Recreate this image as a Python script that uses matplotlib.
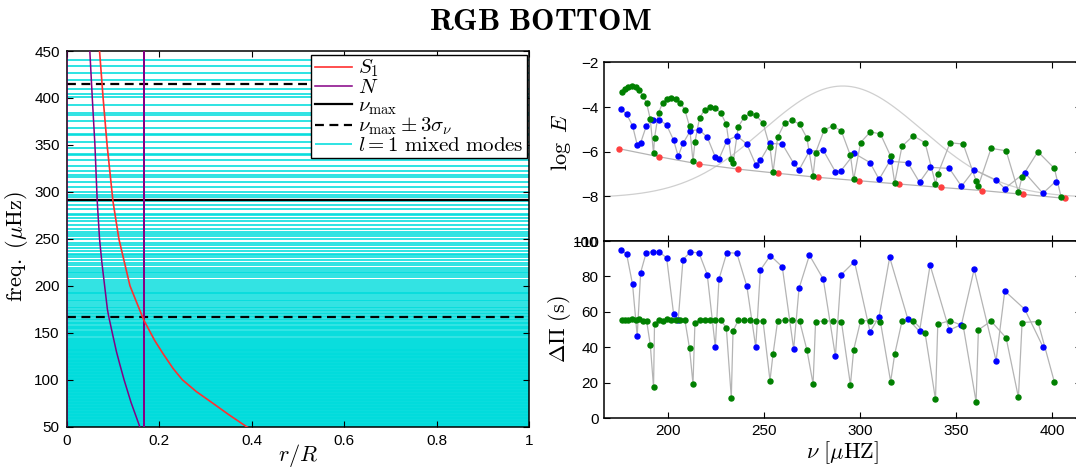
import matplotlib
matplotlib.use("Agg")
import matplotlib.pyplot as plt
import numpy as np
from matplotlib.ticker import FormatStrFormatter

plt.rcParams["mathtext.fontset"] = "cm"
plt.rcParams["font.family"] = ["Liberation Sans", "DejaVu Sans"]
plt.rcParams["axes.linewidth"] = 1.1

# ---------------- propagation diagram (left) ----------------
# Lamb frequency S_1 versus fractional radius
r_s1 = [0.065, 0.071, 0.0787, 0.0873, 0.100, 0.1128, 0.1368, 0.1666, 0.190, 0.208,
        0.230, 0.250, 0.280, 0.316, 0.350, 0.389, 0.420]
s1 = [500, 450, 400, 350, 290, 250, 200, 163.6, 142, 128,
      112, 100, 87.5, 75, 63, 50, 42]

# Brunt-Vaisala frequency N (with the spike at the H-burning shell)
r_n = [0.0, 0.0005, 0.02, 0.035, 0.050, 0.0553, 0.061, 0.066, 0.071, 0.076, 0.082,
       0.088, 0.091, 0.0985, 0.1075, 0.1145, 0.124, 0.1315, 0.139, 0.1485, 0.158,
       0.1666, 0.1666, 0.1666, 0.20, 1.0]
n_freq = [0, 5000, 2000, 900, 450, 400, 350, 290, 250, 225, 200,
          175, 167, 150, 130, 117, 100, 88, 76, 63, 50,
          40, 5000, 40, 10, 5]

# frequency of maximum power and width of the power envelope
nu_max = 291.0
sigma_nu = 41.3

# ---------------- mode sets (right) ----------------
nu_l0 = [174.9, 195.7, 216.1, 236.6, 257.4, 278.2, 299.3, 320.5, 341.9, 363.4, 384.9, 406.4]
loge_l0 = [-5.87, -6.23, -6.55, -6.78, -6.97, -7.15, -7.30, -7.45, -7.60, -7.74, -7.91, -8.09]

nu_blue = [175.7, 178.7, 181.8, 184.2, 186.0, 188.9, 192.2, 195.7, 199.5, 203.1,
           205.5, 208.0, 211.8, 216.3, 220.6, 224.8, 226.7, 230.8, 236.0, 241.2,
           245.8, 248.2, 253.4, 259.6, 265.5, 268.3, 273.7, 280.9, 287.2, 290.1,
           297.1, 305.2, 309.9, 315.4, 324.8, 330.9, 336.4, 346.4, 352.7, 359.3,
           370.7, 375.2, 385.6, 395.0, 401.6]
loge_blue = [-4.07, -4.32, -4.84, -5.69, -5.60, -4.86, -4.56, -4.56, -4.81, -5.48,
             -6.20, -5.63, -5.07, -5.01, -5.35, -6.24, -6.33, -5.51, -5.29, -5.66,
             -6.58, -6.39, -5.63, -5.66, -6.52, -6.82, -5.97, -5.94, -6.90, -6.85,
             -6.08, -6.49, -7.24, -6.43, -6.49, -7.37, -6.70, -6.75, -7.55, -6.81,
             -7.27, -7.65, -6.94, -7.86, -7.34]
dpi_blue = [95.0, 92.7, 75.5, 46.4, 82.2, 93.5, 94.0, 93.8, 90.5, 59.1,
            55.3, 89.5, 93.8, 93.3, 81.1, 40.2, 78.5, 93.5, 93.1, 74.4,
            40.2, 83.6, 91.8, 85.4, 39.1, 73.3, 92.0, 78.5, 35.0, 80.9,
            88.4, 48.8, 57.2, 90.8, 56.1, 49.0, 86.4, 49.7, 52.9, 84.1,
            32.5, 71.8, 61.5, 40.4]

nu_green = [176.1, 177.8, 179.5, 181.5, 183.4, 185.3, 187.2, 189.1, 191.0, 192.7,
            193.2, 195.3, 197.4, 199.7, 201.9, 204.3, 206.6, 209.0, 211.4, 213.2,
            214.2, 216.6, 219.2, 222.2, 224.8, 227.6, 230.5, 233.1, 234.0, 236.7,
            239.9, 243.0, 245.9, 249.6, 253.2, 254.8, 257.2, 260.8, 264.6, 268.6,
            272.4, 275.6, 276.9, 281.3, 285.8, 290.3, 295.0, 296.7, 300.3, 305.4,
            310.6, 315.9, 318.0, 321.8, 327.6, 333.8, 339.2, 340.4, 346.8, 353.6,
            360.3, 361.5, 368.1, 375.9, 382.3, 384.2, 392.4, 401.0, 404.5]
loge_green = [-3.34, -3.19, -3.12, -3.07, -3.12, -3.24, -3.49, -3.83, -4.54, -6.08,
              -5.39, -4.25, -3.83, -3.64, -3.59, -3.62, -3.80, -4.14, -4.87, -6.43,
              -5.57, -4.49, -4.13, -4.01, -4.04, -4.26, -4.77, -6.35, -6.52, -4.89,
              -4.44, -4.29, -4.38, -4.72, -5.81, -6.90, -5.35, -4.72, -4.59, -4.77,
              -5.39, -7.07, -6.05, -5.04, -4.84, -5.08, -6.17, -7.24, -5.59, -5.11,
              -5.21, -6.20, -7.39, -5.76, -5.29, -5.60, -7.43, -7.00, -5.60, -5.66,
              -7.30, -7.52, -5.85, -5.96, -7.80, -7.12, -6.00, -6.75, -8.04]
dpi_green = [55.5, 55.5, 55.3, 55.9, 55.3, 55.9, 55.1, 55.0, 41.5, 17.6,
             53.1, 55.5, 54.8, 55.9, 55.3, 55.7, 55.3, 55.3, 39.4, 19.4,
             53.8, 55.3, 55.7, 55.3, 55.3, 55.3, 51.2, 11.6, 49.2, 55.3,
             55.3, 55.3, 55.1, 54.8, 21.3, 36.3, 55.1, 55.3, 55.3, 54.8,
             38.5, 19.4, 54.6, 54.8, 55.0, 54.6, 18.9, 38.7, 55.0, 55.1,
             54.4, 20.7, 36.1, 54.8, 55.1, 48.0, 10.7, 53.1, 55.1, 52.1,
             9.3, 49.9, 54.8, 45.4, 11.8, 54.0, 54.6, 20.4]

# l = 1 mixed-mode frequencies outside the range of the mode table
l1_low = [50.1, 50.9, 51.7, 52.5, 53.3, 54.1, 54.9, 55.7, 56.5, 57.3, 58.1, 58.9,
          59.7, 60.5, 61.3, 62.1, 62.9, 63.7, 64.5, 65.3, 66.1, 66.9, 67.7, 68.5,
          69.3, 70.1, 70.9, 71.7, 72.5, 73.3, 74.1, 74.9, 75.7, 76.5, 77.3, 78.1,
          78.9, 79.7, 80.5, 81.3, 82.1, 82.9, 83.7, 84.5, 85.3, 86.1, 86.9, 87.7,
          88.5, 89.3, 90.1, 90.9, 91.7, 92.5, 93.3, 94.1, 94.9, 95.7, 96.5, 97.3,
          98.1, 98.9, 99.7, 100.5, 101.3, 102.1, 102.9, 103.7, 104.5, 105.3, 106.1,
          106.9, 107.7, 108.5, 109.3, 110.1, 110.9, 111.7, 112.5, 113.3, 114.1,
          114.9, 115.7, 116.5, 117.3, 118.1, 118.9, 119.7, 120.5, 121.3, 122.1,
          122.9, 123.7, 124.5, 125.3, 126.1, 126.9, 127.7, 128.5, 129.4, 130.3,
          131.2, 132.2, 133.2, 134.2, 135.2, 136.2, 137.2, 138.2, 139.3, 140.4,
          141.5, 142.6, 143.7, 144.9, 146.1, 147.3, 148.5, 149.7, 151.0, 152.3,
          153.6, 154.9, 156.2, 157.6, 159.0, 160.4, 161.8, 163.3, 164.8, 166.3,
          167.9, 169.5, 171.1, 172.7, 174.4]
l1_high = [409.2, 419.1, 426.3, 434.0, 440.4]

l1_modes = l1_low + nu_green + l1_high

CYAN = "#00dcdc"
RED = "#ff3030"
PURPLE = "#850085"
GREY = "#b4b4b4"

fig = plt.figure(figsize=(10.76, 4.68), dpi=100)

# ---------------- left panel ----------------
axl = fig.add_axes([0.062, 0.0882, 0.4298, 0.8028])
h_l1 = axl.hlines(l1_modes, 0, 1, colors=CYAN, lw=1.15, zorder=1)
h_max = axl.axhline(nu_max, color="black", lw=1.6, zorder=3)
h_sig = axl.axhline(nu_max - 3 * sigma_nu, color="black", lw=1.6, ls=(0, (4, 2.5)), zorder=3)
axl.axhline(nu_max + 3 * sigma_nu, color="black", lw=1.6, ls=(0, (4, 2.5)), zorder=3)
h_n, = axl.plot(r_n, n_freq, color=PURPLE, lw=1.1, zorder=4)
h_s1, = axl.plot(r_s1, s1, color=RED, lw=1.2, zorder=5)
axl.set_xlim(0, 1)
axl.set_ylim(50, 450)
axl.set_xticks(np.arange(0, 1.01, 0.2))
axl.xaxis.set_major_formatter(FormatStrFormatter("%g"))
axl.set_yticks(np.arange(50, 451, 50))
axl.tick_params(direction="in", top=True, right=True, length=4, labelsize=11, pad=5)
axl.set_xlabel(r"$r/R$", fontsize=16, labelpad=-4)
axl.set_ylabel(r"$\mathrm{freq.\ (\mu Hz)}$", fontsize=16)
axl.yaxis.set_label_coords(-0.079, 0.48)

leg = axl.legend([h_s1, h_n, h_max, h_sig, h_l1],
                 [r"$S_1$", r"$N$", r"$\nu_{\max}$", r"$\nu_{\max}\pm 3\sigma_\nu$",
                  r"$l = 1\ \mathrm{mixed\ modes}$"],
                 loc="upper right", bbox_to_anchor=(0.995, 0.99), borderaxespad=0,
                 fontsize=15, frameon=True, fancybox=False, framealpha=1,
                 edgecolor="black", handlelength=1.8, handletextpad=0.3,
                 labelspacing=-0.05, borderpad=0.15)
leg.get_frame().set_linewidth(1.0)
leg.set_zorder(10)

# ---------------- top right: energy ----------------
axt = fig.add_axes([0.5616, 0.485, 0.4432, 0.3818])
nu_grid = np.linspace(nu_max - 3 * sigma_nu, nu_max + 3 * sigma_nu, 400)
envelope = -8.06 + 5.0 * np.exp(-0.5 * ((nu_grid - nu_max) / sigma_nu) ** 2)
axt.plot(nu_grid, envelope, color="#cfcfcf", lw=0.9, zorder=1)
for nu, le, col in [(nu_l0, loge_l0, "#ff4040"), (nu_blue, loge_blue, "#0000ff"),
                    (nu_green, loge_green, "#008000")]:
    axt.plot(nu, le, color=GREY, lw=0.9, zorder=2)
    axt.plot(nu, le, ls="none", marker="o", ms=3.6, mfc=col, mec=col, zorder=3)
axt.set_xlim(nu_max - 3 * sigma_nu, nu_max + 3 * sigma_nu)
axt.set_ylim(-10, -2)
axt.set_xticks(np.arange(200, 401, 50))
axt.set_yticks(np.arange(-10, -1, 2))
axt.tick_params(direction="in", top=True, right=True, length=4, labelsize=11,
                labelbottom=False, pad=4)
axt.set_ylabel(r"$\log\ E$", fontsize=16)
axt.yaxis.set_label_coords(-0.066, 0.55)

# ---------------- bottom right: period spacing ----------------
axb = fig.add_axes([0.5616, 0.1062, 0.4432, 0.3788])
for nu, dp, col in [(nu_blue[:-1], dpi_blue, "#0000ff"), (nu_green[:-1], dpi_green, "#008000")]:
    axb.plot(nu, dp, color=GREY, lw=0.9, zorder=2)
    axb.plot(nu, dp, ls="none", marker="o", ms=3.6, mfc=col, mec=col, zorder=3)
axb.set_xlim(nu_max - 3 * sigma_nu, nu_max + 3 * sigma_nu)
axb.set_ylim(0, 100)
axb.set_xticks(np.arange(200, 401, 50))
axb.set_yticks(np.arange(0, 101, 20))
axb.tick_params(direction="in", top=True, right=True, length=4, labelsize=11, pad=4)
axb.set_xlabel(r"$\nu\ [\mu\mathrm{HZ}]$", fontsize=16, labelpad=1)
axb.set_ylabel(r"$\Delta\Pi\ \mathrm{(s)}$", fontsize=16)
axb.yaxis.set_label_coords(-0.066, 0.5)

fig.text(0.502, 0.952, r"$\mathbf{RGB\ BOTTOM}$", ha="center", va="center", fontsize=22.5)

fig.savefig("out.png", dpi=100)
